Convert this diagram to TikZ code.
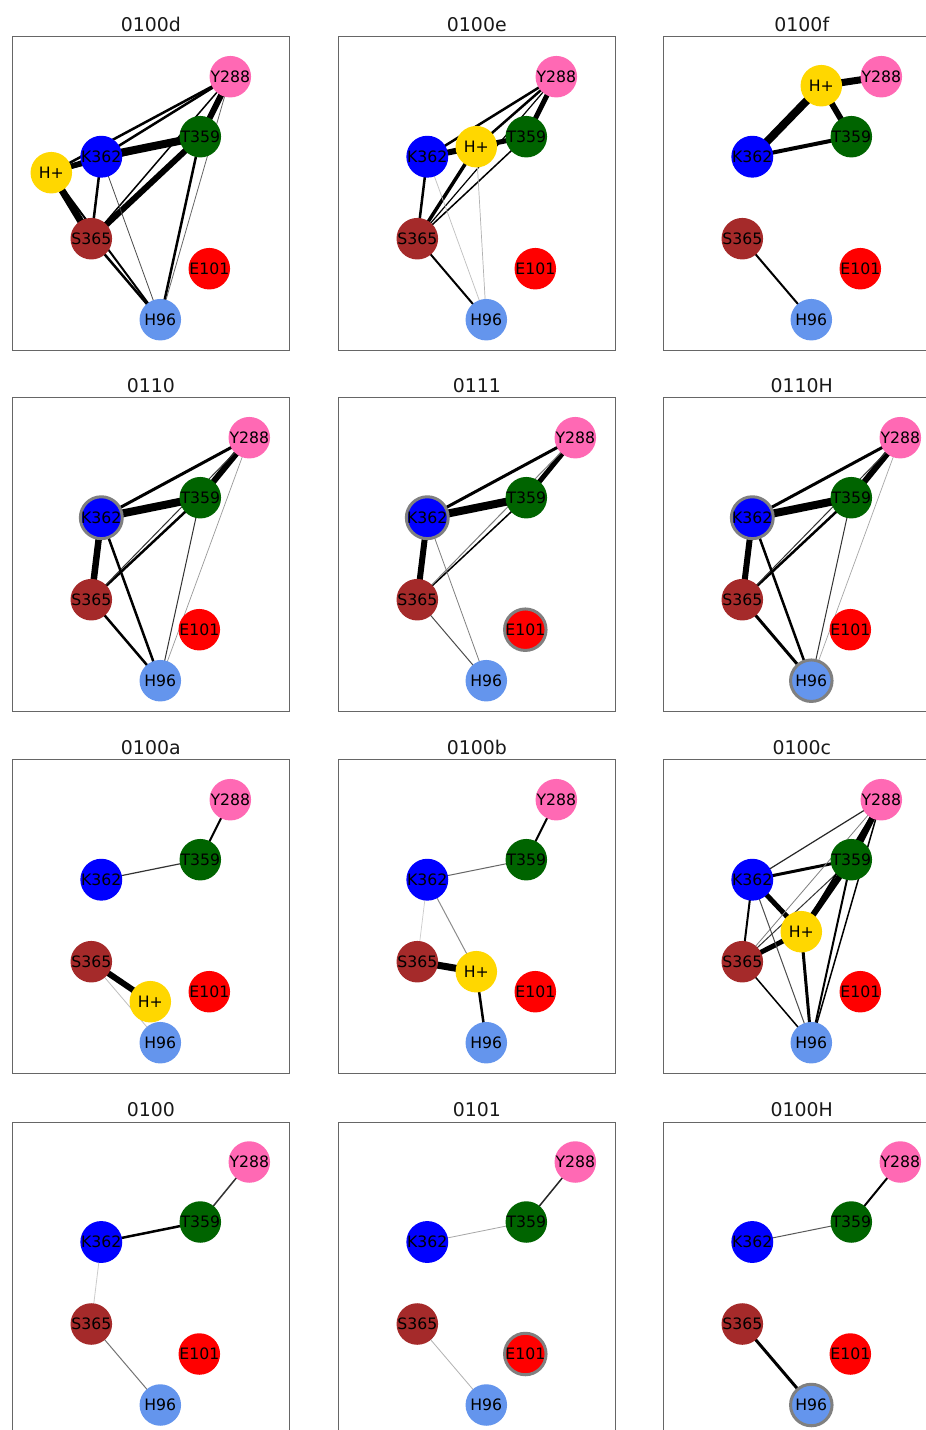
\documentclass[tikz,border=0pt]{standalone}
\usepackage{fontspec}
\setmainfont{DejaVu Sans}
\pgfdeclarelayer{back}
\pgfdeclarelayer{bg}
\pgfsetlayers{back,bg,main}
\definecolor{cY}{HTML}{FF69B4}
\definecolor{cT}{HTML}{006400}
\definecolor{cK}{HTML}{0000FF}
\definecolor{cS}{HTML}{A52A2A}
\definecolor{cE}{HTML}{FF0000}
\definecolor{cH}{HTML}{6495ED}
\definecolor{cP}{HTML}{FFD700}
\definecolor{framec}{HTML}{666666}
\definecolor{hl}{HTML}{808080}
\tikzset{
  res/.style={circle, minimum size=41.5pt, inner sep=0pt, font=\fontsize{15.7}{16}\selectfont, text=black},
  hilite/.style={draw=hl, line width=3pt},
  ttl/.style={anchor=base, font=\fontsize{18.9}{20}\selectfont, text=black!90},
  box/.style={draw=framec, line width=1pt},
  w/.style={line width=#1pt, line cap=butt},
}
% #1 prefix, #2 Y288 x, #3 E101 x, #4 K opts, #5 E opts, #6 H96 opts
\newcommand\resnodes[6]{%
  \node[res,fill=cY] (#1Y) at (#2,40) {Y288};
  \node[res,fill=cT] (#1T) at (188,100) {T359};
  \node[res,fill=cK,#4] (#1K) at (89,120) {K362};
  \node[res,fill=cS] (#1S) at (79,202) {S365};
  \node[res,fill=cE,#5] (#1E) at (#3,232) {E101};
  \node[res,fill=cH,#6] (#1H) at (148,283) {H96};
}
\newcommand\panelframe[2]{%
  \node[ttl] (#1title) at (138.5,-5.5) {#2};
  \draw[box] (0,0) rectangle (277,314);
}
\begin{document}
\begin{tikzpicture}[x=1pt,y=-1pt]
\useasboundingbox (0,0) rectangle (926,1430);
\begin{pgfonlayer}{back}
  \fill[white] (0,0) rectangle (926,1430);
\end{pgfonlayer}
\clip (0,0) rectangle (926,1430);

% ---------- 0100d ----------
\begin{scope}[shift={(12.3,36.7)}]
  \panelframe{a}{0100d}
  \resnodes{a}{218}{197}{}{}{}
  \node[res,fill=cP] (aP) at (39,136) {H+};
  \begin{pgfonlayer}{bg}
    \draw[w=8] (aK.center) -- (aT.center);
    \draw[w=5.5] (aP.center) -- (aK.center);
    \draw[w=7] (aP.center) -- (aS.center);
    \draw[w=6] (aS.center) -- (aT.center);
    \draw[w=6] (aT.center) -- (aY.center);
    \draw[w=2.5] (aK.center) -- (aY.center);
    \draw[w=2.5] (aP.center) -- (aY.center);
    \draw[w=2] (aP.center) -- (aT.center);
    \draw[w=2.5] (aK.center) -- (aS.center);
    \draw[w=1.5] (aS.center) -- (aY.center);
    \draw[w=0.8,black!70] (aK.center) -- (aH.center);
    \draw[w=2.5] (aS.center) -- (aH.center);
    \draw[w=2] (aP.center) -- (aH.center);
    \draw[w=2.5] (aT.center) -- (aH.center);
    \draw[w=0.8,black!60] (aY.center) -- (aH.center);
  \end{pgfonlayer}
\end{scope}

% ---------- 0100e ----------
\begin{scope}[shift={(338.3,36.7)}]
  \panelframe{b}{0100e}
  \resnodes{b}{218}{197}{}{}{}
  \node[res,fill=cP] (bP) at (138,110) {H+};
  \begin{pgfonlayer}{bg}
    \draw[w=6] (bP.center) -- (bK.center);
    \draw[w=5] (bP.center) -- (bT.center);
    \draw[w=5] (bT.center) -- (bY.center);
    \draw[w=2.5] (bK.center) -- (bY.center);
    \draw[w=2.5] (bP.center) -- (bY.center);
    \draw[w=1.2] (bS.center) -- (bY.center);
    \draw[w=2.5] (bK.center) -- (bS.center);
    \draw[w=3.5] (bS.center) -- (bP.center);
    \draw[w=1.5] (bS.center) -- (bT.center);
    \draw[w=2] (bS.center) -- (bH.center);
    \draw[w=0.7,black!25] (bK.center) -- (bH.center);
    \draw[w=0.7,black!30] (bP.center) -- (bH.center);
  \end{pgfonlayer}
\end{scope}

% ---------- 0100f ----------
\begin{scope}[shift={(663.3,36.7)}]
  \panelframe{c}{0100f}
  \resnodes{c}{218}{197}{}{}{}
  \node[res,fill=cP] (cP) at (158,49) {H+};
  \begin{pgfonlayer}{bg}
    \draw[w=8] (cP.center) -- (cK.center);
    \draw[w=7] (cP.center) -- (cY.center);
    \draw[w=6] (cP.center) -- (cT.center);
    \draw[w=4] (cK.center) -- (cT.center);
    \draw[w=2] (cS.center) -- (cH.center);
  \end{pgfonlayer}
\end{scope}

% ---------- 0110 ----------
\begin{scope}[shift={(12.3,397.7)}]
  \panelframe{d}{0110}
  \resnodes{d}{237}{187}{hilite}{}{}
  \begin{pgfonlayer}{bg}
    \draw[w=8] (dK.center) -- (dT.center);
    \draw[w=6] (dT.center) -- (dY.center);
    \draw[w=3] (dK.center) -- (dY.center);
    \draw[w=6.5] (dK.center) -- (dS.center);
    \draw[w=2.5] (dS.center) -- (dT.center);
    \draw[w=1,black!80] (dS.center) -- (dY.center);
    \draw[w=2.5] (dK.center) -- (dH.center);
    \draw[w=2.5] (dS.center) -- (dH.center);
    \draw[w=1,black!80] (dT.center) -- (dH.center);
    \draw[w=0.7,black!40] (dY.center) -- (dH.center);
  \end{pgfonlayer}
\end{scope}

% ---------- 0111 ----------
\begin{scope}[shift={(338.3,397.7)}]
  \panelframe{e}{0111}
  \resnodes{e}{237}{187}{hilite}{hilite}{}
  \begin{pgfonlayer}{bg}
    \draw[w=8] (eK.center) -- (eT.center);
    \draw[w=5] (eT.center) -- (eY.center);
    \draw[w=3] (eK.center) -- (eY.center);
    \draw[w=6] (eK.center) -- (eS.center);
    \draw[w=1.5] (eS.center) -- (eT.center);
    \draw[w=1,black!50] (eS.center) -- (eY.center);
    \draw[w=0.8,black!50] (eK.center) -- (eH.center);
    \draw[w=1,black!70] (eS.center) -- (eH.center);
  \end{pgfonlayer}
\end{scope}

% ---------- 0110H ----------
\begin{scope}[shift={(663.3,397.7)}]
  \panelframe{f}{0110H}
  \resnodes{f}{237}{187}{hilite}{}{hilite}
  \begin{pgfonlayer}{bg}
    \draw[w=8] (fK.center) -- (fT.center);
    \draw[w=6] (fT.center) -- (fY.center);
    \draw[w=3] (fK.center) -- (fY.center);
    \draw[w=6] (fK.center) -- (fS.center);
    \draw[w=2.5] (fS.center) -- (fT.center);
    \draw[w=1,black!80] (fS.center) -- (fY.center);
    \draw[w=2.5] (fK.center) -- (fH.center);
    \draw[w=3] (fS.center) -- (fH.center);
    \draw[w=1,black!80] (fT.center) -- (fH.center);
    \draw[w=0.7,black!35] (fY.center) -- (fH.center);
  \end{pgfonlayer}
\end{scope}

% ---------- 0100a ----------
\begin{scope}[shift={(12.3,759.7)}]
  \panelframe{g}{0100a}
  \resnodes{g}{218}{197}{}{}{}
  \node[res,fill=cP] (gP) at (138,242) {H+};
  \begin{pgfonlayer}{bg}
    \draw[w=2] (gY.center) -- (gT.center);
    \draw[w=1.2,black!80] (gK.center) -- (gT.center);
    \draw[w=6] (gS.center) -- (gP.center);
    \draw[w=0.8,black!25] (gS.center) -- (gH.center);
  \end{pgfonlayer}
\end{scope}

% ---------- 0100b ----------
\begin{scope}[shift={(338.3,759.7)}]
  \panelframe{h}{0100b}
  \resnodes{h}{218}{197}{}{}{}
  \node[res,fill=cP] (hP) at (138,212) {H+};
  \begin{pgfonlayer}{bg}
    \draw[w=2] (hY.center) -- (hT.center);
    \draw[w=1,black!60] (hK.center) -- (hT.center);
    \draw[w=0.7,black!20] (hK.center) -- (hS.center);
    \draw[w=1,black!45] (hK.center) -- (hP.center);
    \draw[w=7] (hS.center) -- (hP.center);
    \draw[w=2.5] (hP.center) -- (hH.center);
  \end{pgfonlayer}
\end{scope}

% ---------- 0100c ----------
\begin{scope}[shift={(663.3,759.7)}]
  \panelframe{i}{0100c}
  \resnodes{i}{218}{197}{}{}{}
  \node[res,fill=cP] (iP) at (138,172) {H+};
  \begin{pgfonlayer}{bg}
    \draw[w=6] (iY.center) -- (iT.center);
    \draw[w=6] (iT.center) -- (iP.center);
    \draw[w=5] (iK.center) -- (iP.center);
    \draw[w=5] (iS.center) -- (iP.center);
    \draw[w=3] (iK.center) -- (iT.center);
    \draw[w=1.2,black!85] (iK.center) -- (iY.center);
    \draw[w=2] (iK.center) -- (iS.center);
    \draw[w=1,black!80] (iS.center) -- (iT.center);
    \draw[w=0.8,black!50] (iS.center) -- (iY.center);
    \draw[w=2] (iP.center) -- (iY.center);
    \draw[w=3] (iP.center) -- (iH.center);
    \draw[w=1.5] (iS.center) -- (iH.center);
    \draw[w=1,black!70] (iK.center) -- (iH.center);
    \draw[w=2] (iT.center) -- (iH.center);
    \draw[w=1.5] (iY.center) -- (iH.center);
  \end{pgfonlayer}
\end{scope}

% ---------- 0100 ----------
\begin{scope}[shift={(12.3,1122)}]
  \panelframe{j}{0100}
  \resnodes{j}{237}{187}{}{}{}
  \begin{pgfonlayer}{bg}
    \draw[w=1.5,black!80] (jY.center) -- (jT.center);
    \draw[w=2.5] (jK.center) -- (jT.center);
    \draw[w=0.8,black!20] (jK.center) -- (jS.center);
    \draw[w=1,black!55] (jS.center) -- (jH.center);
  \end{pgfonlayer}
\end{scope}

% ---------- 0101 ----------
\begin{scope}[shift={(338.3,1122)}]
  \panelframe{k}{0101}
  \resnodes{k}{237}{187}{}{hilite}{}
  \begin{pgfonlayer}{bg}
    \draw[w=1.5,black!85] (kY.center) -- (kT.center);
    \draw[w=0.8,black!35] (kK.center) -- (kT.center);
    \draw[w=0.8,black!30] (kS.center) -- (kH.center);
  \end{pgfonlayer}
\end{scope}

% ---------- 0100H ----------
\begin{scope}[shift={(663.3,1122)}]
  \panelframe{l}{0100H}
  \resnodes{l}{237}{187}{}{}{hilite}
  \begin{pgfonlayer}{bg}
    \draw[w=2] (lY.center) -- (lT.center);
    \draw[w=1,black!65] (lK.center) -- (lT.center);
    \draw[w=3] (lS.center) -- (lH.center);
  \end{pgfonlayer}
\end{scope}
\end{tikzpicture}
\end{document}
